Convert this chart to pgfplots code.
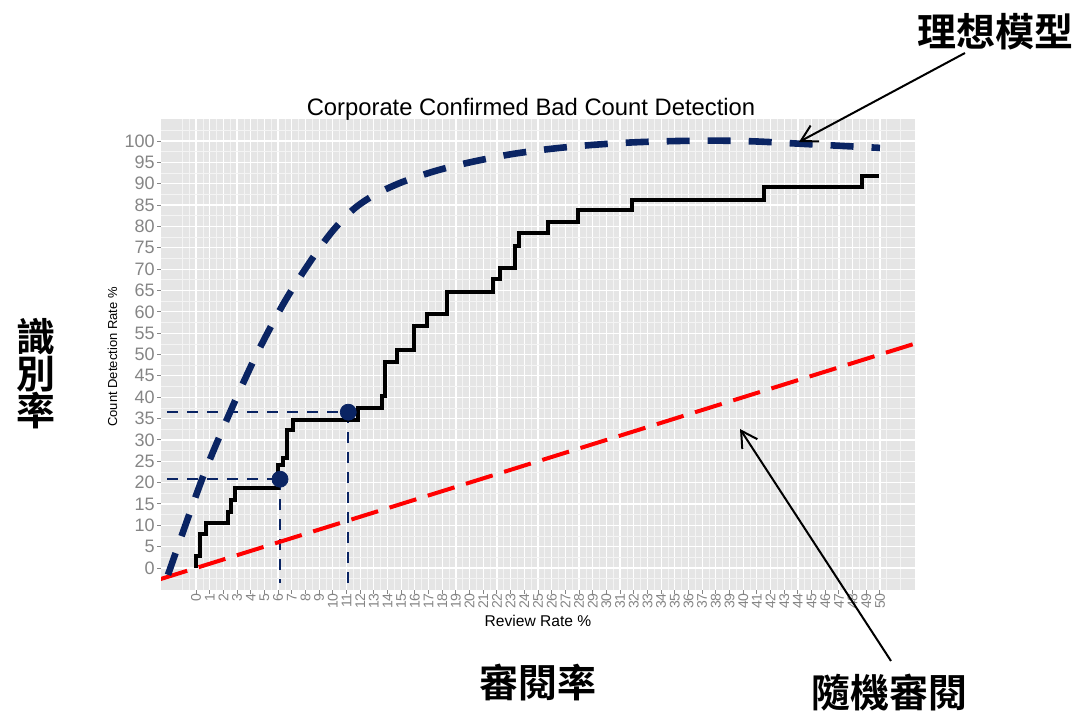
\documentclass[border=0pt]{standalone}
\usepackage{fontspec}
\setmainfont{Liberation Sans}
\newfontfamily\cjk{Noto Sans CJK TC}[BoldFont=Noto Sans CJK TC Bold]
\usepackage{pgfplots}
\pgfplotsset{compat=1.18}
\usetikzlibrary{arrows.meta}
\definecolor{panel}{HTML}{E5E5E5}
\definecolor{minorgrid}{HTML}{F4F4F4}
\definecolor{ticklab}{HTML}{858585}
\definecolor{navy}{HTML}{0A2463}

\begin{document}
\begin{tikzpicture}
\useasboundingbox (0,0) rectangle (538.5pt,358pt);
\begin{axis}[
    at={(80.5pt,63pt)}, anchor=south west,
    scale only axis, width=377pt, height=235.35pt,
    xmin=-2.56, xmax=52.56, ymin=-5.15, ymax=105.1,
    axis background/.style={fill=panel},
    axis line style={draw=none},
    xtick={0,...,50}, ytick={0,5,...,100},
    minor xtick={-1,-0.5,0.5,...,52},
    minor ytick={-2.5,2.5,...,103},
    grid=both,
    major grid style={white, line width=0.6pt},
    minor grid style={minorgrid, line width=0.35pt},
    tick align=outside, major tick length=2pt, minor tick length=0pt,
    xtick pos=bottom, ytick pos=left,
    tick style={color=ticklab, line width=0.5pt},
    /pgf/number format/assume math mode=true,
    xticklabel style={rotate=90, anchor=east, color=ticklab,
        font=\fontsize{7}{7}\selectfont, inner sep=1pt, xshift=1.5pt},
    yticklabel style={color=ticklab, font=\fontsize{9}{9}\selectfont, inner sep=1pt},
    clip=true,
]
% guide lines to the two marked points
\addplot[navy, line width=1.2pt, dash pattern=on 5.5pt off 4.5pt] coordinates {(-2.1,20.8) (6.14,20.8)};
\addplot[navy, line width=1.2pt, dash pattern=on 5.5pt off 4.5pt] coordinates {(6.14,20.8) (6.14,-3.5)};
\addplot[navy, line width=1.2pt, dash pattern=on 5.5pt off 4.5pt] coordinates {(-2.1,36.5) (11.13,36.5)};
\addplot[navy, line width=1.2pt, dash pattern=on 5.5pt off 4.5pt] coordinates {(11.13,36.5) (11.13,-3.5)};
% random review
\addplot[red, line width=2pt, dash pattern=on 14pt off 6pt] coordinates {(-2.6,-2.6) (52.6,52.6)};
% observed detection
\addplot[black, line width=2pt, const plot] coordinates {
(0,0) (0,2.7) (0.3,8.0) (0.73,10.5) (2.36,13.2) (2.56,15.9) (2.85,18.7)
(6.02,24.1) (6.34,25.7) (6.63,32.3) (7.11,34.7) (11.87,37.4) (13.57,40.3)
(13.8,48.3) (14.67,51.1) (15.9,56.7) (16.9,59.4) (18.37,64.7) (21.73,67.6)
(22.2,70.2) (23.3,75.4) (23.6,78.4) (25.7,81.1) (27.95,83.8) (31.9,86.3)
(41.5,89.2) (48.66,91.9) (49.95,91.9)};
% ideal model
\addplot[navy, line width=3.3pt, dash pattern=on 11.5pt off 9pt, smooth] coordinates {
(-2.05,-1.6) (0.44,20.8) (2.49,36.5) (4.5,50.5) (6.5,62.5) (8.5,72.5)
(10,79) (11.5,84) (13,87.3) (15,90.3) (17.5,93) (20,95) (23,96.9)
(26,98.2) (29,99.1) (32,99.7) (35,100) (38,100.1) (41,99.9) (44,99.4)
(47,98.9) (50,98.4)};
% marked points
\addplot[only marks, mark=*, mark size=4pt, navy] coordinates {(6.14,20.8) (11.13,36.5)};
\end{axis}
\begin{scope}[x=0.5pt, y=-0.5pt, shift={(0,358pt)}]
\node[anchor=base] at (531,116) {\fontsize{11.9}{12}\selectfont Corporate Confirmed Bad Count Detection};
\node at (538,621) {\fontsize{7.8}{8}\selectfont Review Rate \%};
\node[rotate=90] at (112.5,357) {\fontsize{6.5}{7}\selectfont Count Detection Rate \%};
\node at (995,32) {\cjk\bfseries\fontsize{19.5}{20}\selectfont 理想模型};
\node[align=center, inner sep=0pt, font=\cjk\bfseries\fontsize{19.5}{18.5}\selectfont] at (36,374) {識\\別\\率};
\node at (538,683) {\cjk\bfseries\fontsize{19.5}{20}\selectfont 審閱率};
\node at (889,693) {\cjk\bfseries\fontsize{19.5}{20}\selectfont 隨機審閱};
\draw[line width=1pt, -{Straight Barb[length=8pt,width=9pt]}] (965,53) -- (799,142);
\draw[line width=1pt, -{Straight Barb[length=8pt,width=9pt]}] (891,661) -- (740,429);
\end{scope}
\end{tikzpicture}
\end{document}
